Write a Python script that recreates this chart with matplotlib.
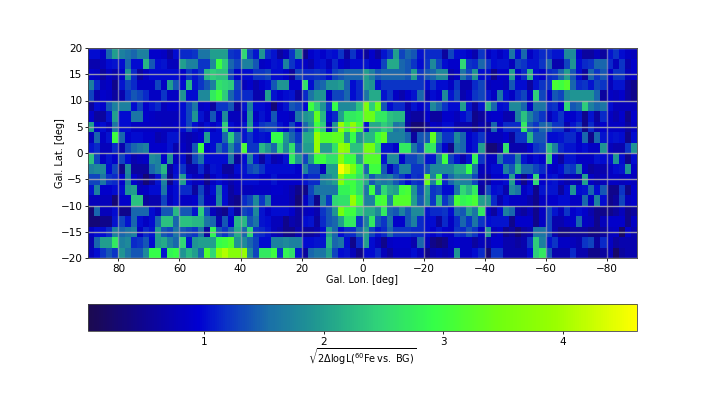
import numpy as np
import matplotlib
matplotlib.use("Agg")
import matplotlib.pyplot as plt
from matplotlib.colors import LinearSegmentedColormap

lon_ticks = [80, 60, 40, 20, 0, -20, -40, -60, -80]
lat_ticks = [-20, -15, -10, -5, 0, 5, 10, 15, 20]
cbar_ticks = [1, 2, 3, 4]
vmin, vmax = 0.03, 4.62

# panels of 10 rows (top to bottom) x 30 columns (lon 90 -> -90)
top_left = [
[1,1,.85,1.5,2.0,1.7,1.6,1.5,1.7,1.7,.9,.9,.85,.6,1,1.15,1.15,1.2,1.6,1.6,2.0,2.0,2.0,1.2,1.15,2.5,1.3,1.05,1.9,1.15],
[.7,.7,.8,1,1.05,1,1.5,1,1,2.2,1.4,1,1.05,.8,.8,2.0,1.7,1.7,1.2,1.2,1.8,3.0,2.4,1.5,1.3,1.7,1.7,1.4,.85,.9],
[.9,.85,.6,.85,.7,.9,1.9,1.15,.6,.85,1,1,1,1,1,.9,1.2,1.05,1.2,2.2,2.4,2.3,2.3,1.3,.9,1,1,1.2,1.2,1.3],
[1.7,1.15,.8,.85,.45,1.05,1.3,1.15,.85,.85,.85,1.3,.85,2.0,1.4,1,2.2,1.05,1.2,1.4,1.7,2.6,2.5,2.4,1.3,.8,.9,.7,.9,1],
[1.3,.7,.9,.85,.6,.7,1.2,1.4,1.3,1.15,.85,.85,1.2,.85,.85,1.9,1,1,1.8,1.8,2.7,3.0,2.4,1.5,1.2,1.15,1.15,.7,.7,2.0],
[.6,1,.9,1.4,1.7,1.7,1.7,1,1.3,.9,1.05,1.15,.8,.9,.9,1,1.3,1.6,.85,.9,.6,1.2,1.2,1.4,.6,1.05,1.7,1,1,.9],
[.9,.6,.6,1.05,2.0,1,1,1.6,1.6,.9,.85,.8,.8,.8,.8,1,1.3,1.9,1.05,.8,1.4,.85,1.8,.8,.8,.85,1.9,.85,1.05,.9],
[2.0,.9,1,.8,1.6,1,1,.85,.85,.85,.85,.85,.8,.8,.85,1,1.3,1,.8,1,.85,1,2.4,1,.85,1.05,2.0,1,1.2,1.3],
[.8,1.5,.85,1.05,3.0,1.5,.9,1,1,.9,.9,.7,.8,1.05,1.05,.8,.7,.8,.9,2.0,1,1,1.5,2.4,1.5,1.05,1.2,1,1.05,1],
[1.05,1.15,.8,.8,1.15,.7,1.3,1.5,1.6,1.7,.9,.9,.9,1.05,.7,.85,.7,1.4,3.0,.9,1,1.5,1.2,1.8,1.3,3.1,1.2,1.2,2.2,1.9],
]
top_mid = [
[1.05,.6,.8,1.2,1.9,.45,.9,1,.9,1.05,1,1.2,.6,1.2,.85,.6,.9,.6,1.05,1.2,2.0,1.3,1.5,1.4,1.05,1.15,1.15,1.15,.6,1.3],
[1.05,1,1.7,1.2,1,.85,.7,1,1.05,.8,1.15,.9,.8,1,1,1.05,.9,.9,1.3,2.1,2.1,1.5,1.4,1.2,1,1.2,1.8,1.3,1,.9],
[1,1,.9,.6,1.3,1.15,1.15,1.2,1.15,1,1.3,1.4,1.5,1.5,1.5,2.0,1.7,1.4,1.5,1.5,1.5,1.5,1.4,2.0,1.2,1.4,1.5,1.8,1.8,.7],
[1.4,1.9,1.9,.9,.9,2.6,1,1.4,1.5,1.9,1.9,2.0,1.5,1,1.15,2.0,1.9,1.05,1.2,1.2,1.2,1.2,1.2,1.2,1.2,1,1.2,1,1,.85],
[1.05,.9,1,1.05,.6,1.15,1.6,1.9,1.9,.85,1.3,1.3,1.5,1,1.15,1.6,2.1,2.1,1.05,1.2,.85,.7,.9,1.05,1.5,.7,1,.9,1.8,1.05],
[.3,.85,1.05,1.4,1.3,1,3.0,2.4,1.9,1.2,2.9,1.8,1.8,1.8,2.3,3.6,2.4,3.4,1.4,1,1.15,1.15,.7,1.05,.9,1.05,1.8,1.5,1.2,1],
[1.4,.9,.9,.8,1.6,1.9,2.0,3.3,2.2,1,1.15,2.0,2.7,2.7,2.8,3.4,3.4,2.7,2.7,2.3,2.2,2.2,.7,.6,.6,.9,.6,.6,.9,.9],
[1.3,1.05,.9,1.3,.9,1.5,1.9,3.0,2.4,.8,1.9,3.9,3.1,3.8,3.1,1.05,2.1,2.1,2.4,2.2,1.6,1.7,.6,.3,.3,.6,.85,.8,1,1],
[2.9,2.9,1.9,1.5,1.2,2.1,2.1,3.9,3.2,3.2,3.3,3.3,2.0,2.9,1.9,2.2,2.2,3.0,3.3,1.7,1.7,1.7,1.5,.6,1.4,1.4,3.3,1.7,1.2,1.2],
[1.5,2.5,1.8,2.6,1.4,2.0,2.0,3.9,2.0,2.0,2.6,3.9,3.7,2.3,2.3,3.5,3.5,2.6,1.05,1.05,.9,2.7,2.7,1.6,1.3,2.6,2.7,1.3,.9,.45],
]
top_right = [
[1,1,.9,.7,1.2,.85,1,.85,1,1.6,1,1.5,.85,1.05,1.15,1.15,1.05,1.05,1.8,1.8,.9,.6,.6,.8,.6,1.05,1.2,1,.85,.8],
[.9,2.5,1.2,1.15,1.5,1.2,1,1.05,1.05,.8,1.3,1.2,1.05,1.05,1.2,1.5,.7,.7,1.3,1.9,1,1.15,1.2,1.5,1.5,1.15,.8,1.2,.7,.9],
[.85,1.6,1.3,1.9,1,1,.45,.9,.9,2.0,.9,1.15,2.2,1,.9,1.15,1.2,1.5,2.0,1.4,1,.6,1.5,1.2,1.4,.9,1.2,1.2,.8,.9],
[1.2,.7,.7,1.15,1.3,.8,.85,.85,.8,1.4,1,1,.6,1.05,1.2,1.2,3.1,3.0,3.2,1.5,1.15,1.2,1.05,1.3,1.2,.8,1.05,1.05,.6,.45],
[1.3,.7,.85,1.2,1.3,1.05,.85,1.6,1,.85,1.15,1.3,.85,2.4,1.3,.9,1.4,1.3,1.8,1.9,1.9,1.9,1.9,1.5,.6,.85,.8,.9,.6,.45],
[1,2.0,1.05,.6,1.05,2.2,1.5,1,1.05,1.8,1.8,1.5,.85,1.6,1.6,1.15,1.2,.9,2.5,1.4,1.5,2.4,1.7,1.5,1.6,1,.8,.8,.8,.8],
[.8,1,1.15,.45,.6,.85,.9,.9,.7,.7,1.7,2.3,1.7,1.4,1.2,.8,1.05,1.2,.9,.9,1.05,.45,1.05,.6,1.15,.85,.7,.9,.45,.9],
[.7,.7,.7,.45,.7,.6,1.5,.85,1.15,1.15,1.15,2.7,1.4,1.2,1.5,1.5,1.2,1.2,.7,1.05,1.2,.45,1.15,.7,.9,.85,.85,.85,.6,.85],
[1.8,1.5,.9,1.05,1.2,.8,.8,.8,.9,.6,1.2,1.2,2.2,1.4,1.4,1,1,1.05,1.15,1.15,.85,1.5,.45,1.5,1.05,1,1.05,1,.45,1],
[1.6,1.5,.9,1.05,2.0,.3,.3,.6,2.6,.7,.7,.7,.9,1.2,1.3,2.3,1.7,1.15,1.05,1.05,.9,1,.85,.85,1.9,.8,.7,.7,1.2,1.9],
]
bot_left = [
[2.3,1.3,.85,1.05,.9,1.3,1,.7,.8,.85,1.8,1.7,.9,1.9,.8,1,.45,1.3,1.6,1,1,1,1,1.6,.6,1,1.7,1.05,.6,1.05],
[1.7,1.8,1.8,1,1.3,.45,1.8,.6,.6,.6,1.5,1.7,2.2,.6,1,1.2,.7,.7,1.15,.7,1.05,1,.6,.6,1,1.05,1.3,1.4,1.2,1],
[1.3,1.3,1.6,1.2,1.15,.9,1.7,.9,.7,.3,.6,1.05,1.7,.45,1.05,2.0,1,.8,.85,.45,.85,1,.85,.7,.85,1,1,1,.9,.9],
[1.05,1.7,.9,.9,1,1,1.9,2.0,.8,.85,1,1,1.6,.85,1,1.15,1.15,.6,1.3,.7,1,1.7,1,.6,.8,.8,.8,.85,.85,.85],
[.8,.8,.8,.8,.3,.9,.9,2.3,2.3,.6,.7,.7,1.3,.8,1,.85,.85,.9,1.4,.8,.85,1.8,1,.6,.45,1.15,1.3,1.8,1.2,1.7],
[.3,1.5,.8,.8,1,.45,.45,1.5,1.5,1.5,1,.8,1.4,1.4,2.2,1.4,1.4,1.05,2.4,1.3,.8,.6,.45,1.05,.6,1.3,1.2,1.8,1.05,.85],
[.3,.3,.45,.45,1.05,1.3,1.05,1.5,1,.85,1,1.5,2.3,2.3,1.5,2.3,2.3,2.2,2.2,1.6,1.5,.7,1.4,.9,2.2,2.2,1.4,1.6,1.05,1],
[.85,1,1,1.15,1.7,1.5,1.6,1.7,.85,1.15,1.05,2.0,1.4,1.3,1.6,1.4,1.3,1.2,1.6,.6,2.8,1.4,1.2,1.5,2.1,1.5,2.5,1.2,1.15,1.05],
[.7,1.5,2.0,2.0,2.7,1.7,1.8,1.15,1.2,1.4,1,2.0,2.1,1.7,1.5,2.5,1.05,1.9,2.0,2.0,2.0,2.9,3.0,3.2,1.9,1.8,1.5,1.3,1,1],
[.8,1,1.2,1.4,1.2,1.9,1.6,1.4,1.4,1.8,2.9,2.9,1.05,2.8,2.9,1.9,2.2,2.0,1.5,3.2,2.5,3.8,4.1,3.7,3.7,3.9,1.8,1.3,2.7,2.7],
]
bot_mid = [
[.7,.8,1.05,2.7,1.9,1.3,1.9,3.0,3.0,2.6,2.6,3.7,3.0,3.0,2.0,3.2,3.2,3.2,1.05,1.8,1.8,.9,1.3,1.3,1.5,1.05,1.05,1.7,3.0,1.3],
[1,1,1,1,.9,1.7,1.3,1.3,.8,2.0,2.0,4.6,4.2,3.6,2.8,1.5,3.0,3.0,1.4,.8,1.2,1.7,1.7,1.2,1.2,1.4,1.8,1.8,1.8,1.8],
[1.05,.9,.9,.9,.9,1.05,1.15,1.15,1.7,1.8,2.0,3.7,3.0,3.0,2.6,2.1,1.4,1.7,1.6,1.7,1.4,1.2,1,1.2,1.15,3.4,1.7,3.0,1.15,1.5],
[.9,.9,.85,.7,.45,.45,1.3,1.6,1.6,1.6,1.6,2.8,2.8,3.0,2.6,1.6,3.0,1.5,2.5,2.1,2.0,3.0,3.1,1.9,1.3,2.0,1.2,1.3,1,1],
[.85,.85,.85,.7,.3,.85,1.2,.45,1.7,1.2,2.5,2.6,2.6,3.9,3.0,1.7,1.7,3.0,3.1,1.7,3.2,3.2,3.2,2.0,1.4,1.9,1.2,2.2,1.2,1.5],
[1,1,1,.9,.6,.8,.85,.7,1.2,1.4,1.9,3.5,3.0,3.0,2.4,2.1,2.1,1.8,2.7,1.5,1.4,1.7,1.4,1.8,1.8,1.05,1.15,1.15,1.2,1],
[.8,.8,.45,.7,.6,1,1.05,.6,1.15,1.4,1.5,2.0,2.7,2.7,1.2,1.7,2.7,1.4,1.2,1.6,.9,.9,1.4,1.7,1.15,1,1,.6,1.15,.85],
[.8,.7,.45,.45,.7,.6,.6,.7,1,2.0,1.5,1,1.15,1.15,1.5,2.0,1.3,1.05,1.15,1.5,1.2,1.2,1.2,1.15,1.15,1,.9,1.05,.9,.85],
[1.7,1.7,1.8,1.7,1.7,1,1,1.05,1.05,2.2,1.5,1.6,1,.45,1.15,2.0,1,.8,.45,.85,.9,.9,.9,.7,1.5,.8,.45,.3,.45,.85],
[3.0,1.2,2.8,2.6,1.05,.6,1.5,1.6,1.6,2.0,1.3,1,1.05,.8,.45,1,1,1.15,.8,.6,.85,.85,.85,1,.8,.45,.7,.8,.7,.8],
]
bot_right = [
[1.05,.7,1.05,2.8,1.2,.85,.85,1.6,1.15,1.15,1.7,1.05,.85,1,.9,2.4,.9,.6,1.05,1.05,.85,.85,.85,1.05,1,1,1.9,1,.45,1],
[2.1,2.1,2.9,1.6,.8,.85,1,1,1.7,1.4,2.2,1.5,1.5,1.3,1.15,.9,.85,1,1.3,1.2,1.8,.85,.6,.7,.7,.85,1,1.05,1.9,.85],
[1.8,1.7,1.7,1.3,.7,.6,.9,.9,1,2.0,.85,.45,.9,2.5,.9,1,1.05,.85,.7,.8,.7,2.0,.85,.7,.8,.85,.85,.8,.85,.8],
[1.6,2.5,2.2,2.7,.6,1.3,1,1.05,.7,1.8,1.6,.85,1,.45,1.05,1.05,1.05,.6,1,1.9,1,1.05,1.5,1,1.4,.45,.45,1.2,.45,.9],
[3.1,2.8,2.9,3.1,2.0,1.9,1.15,.7,1,.85,.85,.85,.7,.45,.85,.9,.9,1,1,.85,.85,1.5,.85,1.7,1,.45,.6,1.3,.8,.9],
[1.5,1.4,2.0,1.6,2.7,.85,.6,1,1.7,1.5,.7,.6,.8,.45,.85,1.3,1.05,.8,1.2,.9,1,.9,.7,.45,.45,.45,.6,.8,.45,.6],
[1.15,1.5,1.2,1.6,1.2,1,1.05,1.05,1.05,.45,.9,.9,.9,.45,.85,1.3,.7,.7,.85,.9,1.5,.85,.8,.45,.8,.9,.9,.9,.45,.85],
[1.2,1.15,1.4,1.2,.85,1.9,.8,.9,.45,.6,.3,.6,.7,1.6,1.6,1.3,.7,.45,.45,.6,.6,.6,.45,.45,.6,.8,.85,.2,.9,.7],
[.9,.85,.85,.6,.8,.7,.9,.9,.7,.7,.6,.7,1.2,2.4,1.7,1.05,1.2,.85,.85,.8,.7,1.2,1.3,.6,1.15,.85,.6,.7,.7,.7],
[1.9,.85,.85,1,1.15,.3,1.2,1.2,.7,.7,.7,.7,1,2.4,2.7,1.4,.7,.7,.7,1.15,.7,.7,.45,.45,.6,.8,.2,.6,.7,.7],
]

for name, panel in [("tl", top_left), ("tm", top_mid), ("tr", top_right),
                    ("bl", bot_left), ("bm", bot_mid), ("br", bot_right)]:
    for i, row in enumerate(panel):
        assert len(row) == 30, f"{name} row {i} has {len(row)}"

grid = np.vstack([np.hstack([top_left, top_mid, top_right]),
                  np.hstack([bot_left, bot_mid, bot_right])])[::-1]
lon_edges = np.linspace(90, -90, grid.shape[1] + 1)
lat_edges = np.linspace(-20, 20, grid.shape[0] + 1)

cmap = LinearSegmentedColormap.from_list("fe60", [
    (0.00, "#1c0a50"), (0.20, "#0000d2"), (0.25, "#0a30c8"), (0.33, "#1a70a8"),
    (0.42, "#209a90"), (0.53, "#30d478"), (0.63, "#34ff48"), (0.75, "#70ff10"),
    (0.85, "#98ff00"), (1.00, "#ffff00")])

W, H = 708, 399
fig = plt.figure(figsize=(W / 100, H / 100), dpi=100)
ax = fig.add_axes([88 / W, 1 - 258 / H, 549 / W, 210 / H])
mesh = ax.pcolormesh(lon_edges, lat_edges, grid, cmap=cmap, vmin=vmin, vmax=vmax,
                     shading="flat", rasterized=True)
ax.set_xlim(90, -90)
ax.set_ylim(-20, 20)
ax.set_xticks(lon_ticks)
ax.set_yticks(lat_ticks)
ax.grid(True, axis="x", color="#b0b0b0", lw=1.0, alpha=0.6)
ax.grid(True, axis="y", color="#b0b0b0", lw=1.0, alpha=0.85)
ax.tick_params(labelsize=7.5, length=2.5, width=0.6, pad=1.5)
ax.set_xlabel("Gal. Lon. [deg]", fontsize=7, labelpad=1)
ax.set_ylabel("Gal. Lat. [deg]", fontsize=7, labelpad=-3)
for s in ax.spines.values():
    s.set_linewidth(0.6)
    s.set_color("#444444")

cax = fig.add_axes([88 / W, 1 - 331 / H, 549 / W, 27 / H])
cb = fig.colorbar(mesh, cax=cax, orientation="horizontal")
cb.set_ticks(cbar_ticks)
cb.ax.tick_params(labelsize=7.5, length=2.5, width=0.6, pad=1.5)
cb.set_label(r"$\sqrt{2\Delta\mathrm{logL}(^{60}\mathrm{Fe\,vs.\;BG})}$", fontsize=7, labelpad=0)
cb.outline.set_linewidth(0.6)
cb.outline.set_edgecolor("#444444")

fig.savefig("out.png", dpi=100)
